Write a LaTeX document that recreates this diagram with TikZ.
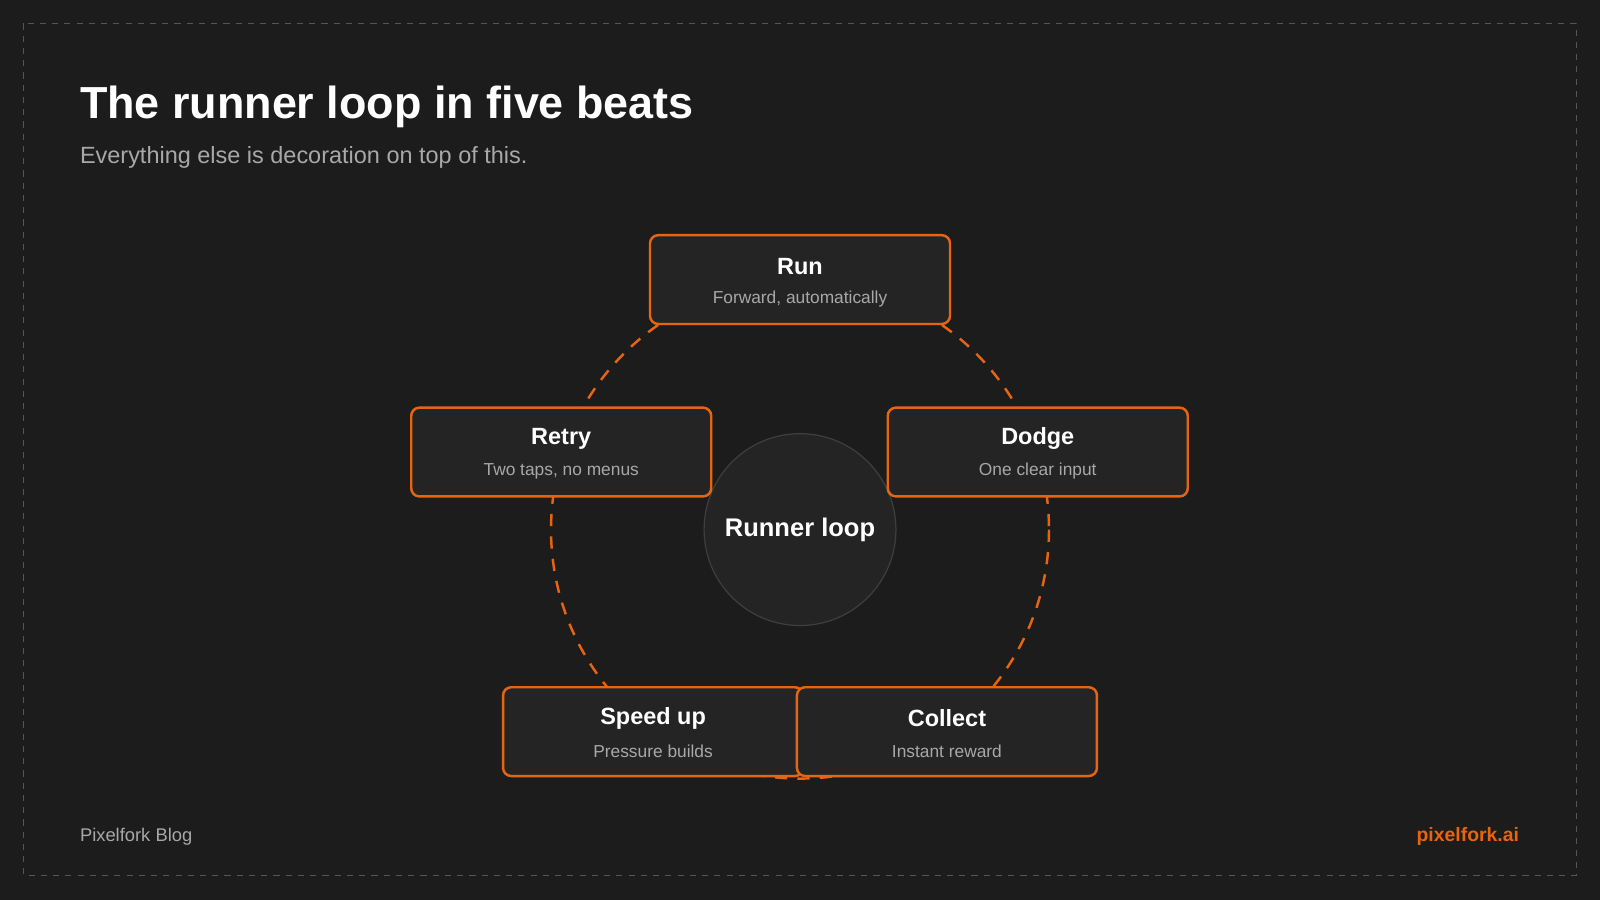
\documentclass[tikz,border=0pt]{standalone}
\usepackage{fontspec}
\setmainfont{Liberation Sans}
\definecolor{bg}{HTML}{1C1C1C}
\definecolor{boxbg}{HTML}{242424}
\definecolor{org}{HTML}{E8650F}
\definecolor{sub}{HTML}{A8A8A8}
\definecolor{frm}{HTML}{555555}
\begin{document}
\begin{tikzpicture}[x=0.5pt,y=-0.5pt,
  beat/.style={draw=org,line width=1.2pt,fill=boxbg,rounded corners=4pt,minimum width=147pt,minimum height=43.5pt,inner sep=0pt},
  ttl/.style={font=\fontsize{11.5}{14}\selectfont\bfseries,text=white,inner sep=0pt},
  sbt/.style={font=\fontsize{8.5}{10}\selectfont,text=sub,inner sep=0pt}]
\useasboundingbox (0,0) rectangle (1568,882);
\fill[bg] (0,0) rectangle (1568,882);
\draw[frm,dashed,line width=0.6pt] (23,23) rectangle (1545,858);
\node[anchor=base west,inner sep=0pt,text=white,font=\fontsize{22}{26}\selectfont\bfseries] (title) at (78,116) {The runner loop in five beats};
\node[anchor=base west,inner sep=0pt,text=sub,font=\fontsize{11.5}{14}\selectfont] (subt) at (78,160) {Everything else is decoration on top of this.};
\node[anchor=base west,inner sep=0pt,text=sub,font=\fontsize{9}{11}\selectfont] (foot) at (78,825) {Pixelfork Blog};
\node[anchor=base east,inner sep=0pt,text=org,font=\fontsize{9.5}{11}\selectfont\bfseries] (site) at (1489,825) {pixelfork.ai};
\coordinate (c) at (784,519);
\draw[org,line width=1.2pt,dash pattern=on 6pt off 5pt] (c) circle[radius=244];
\node[circle,fill=boxbg,draw=frm!60!bg,line width=0.6pt,minimum size=94pt,font=\fontsize{12.5}{15}\selectfont\bfseries,text=white] (hub) at (c) {Runner loop};
% beats
\node[beat] (run) at (784,274) {};
\node[ttl] (runT) at (784,261) {Run};
\node[sbt] (runS) at (784,293) {Forward, automatically};
\node[beat] (dodge) at (1017,443) {};
\node[ttl] (dodgeT) at (1017,430) {Dodge};
\node[sbt] (dodgeS) at (1017,462) {One clear input};
\node[beat] (speed) at (640,717) {};
\node[ttl] (speedT) at (640,704) {Speed up};
\node[sbt] (speedS) at (640,736) {Pressure builds};
\node[beat] (collect) at (928,717) {};
\node[ttl] (collectT) at (928,704) {Collect};
\node[sbt] (collectS) at (928,736) {Instant reward};
\node[beat] (retry) at (550,443) {};
\node[ttl] (retryT) at (550,430) {Retry};
\node[sbt] (retryS) at (550,462) {Two taps, no menus};
\end{tikzpicture}
\end{document}
